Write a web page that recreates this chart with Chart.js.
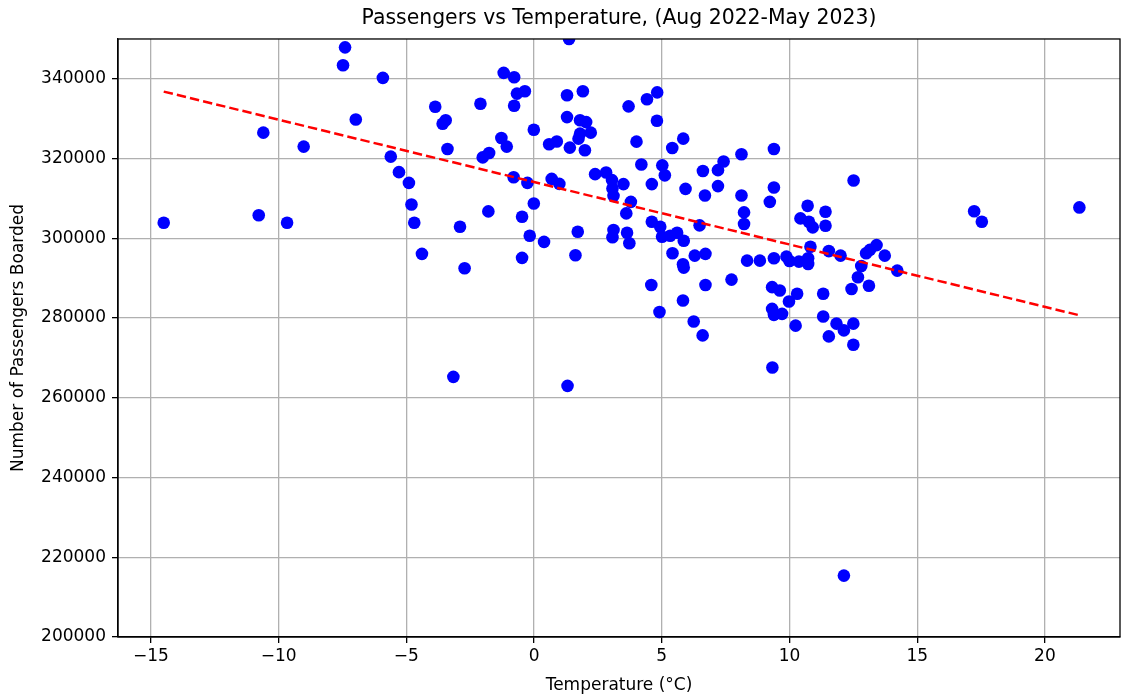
<!DOCTYPE html>
<html>
<head>
<meta charset="utf-8">
<script src="https://cdn.jsdelivr.net/npm/chart.js@4.4.0/dist/chart.umd.min.js"></script>
<style>
  html, body { margin: 0; padding: 0; background: #fff; }
  #wrap { width: 1122px; height: 698px; }
</style>
</head>
<body>
<div id="wrap"><canvas id="chart" width="1122" height="698"></canvas></div>
<script>
// values
var temps = [
  -7.40, -7.48, -6.98, -10.6, -9.02, -14.5, -10.78, -9.67,
  1.37, -5.92, -1.19, -0.78, -0.67, -0.36, -0.78, -2.1, -3.87, -3.46, -3.58, -3.39,
  -0.01, -1.28, -1.07, -2.01, -1.76, -5.61, -5.29, -4.9, -4.8, -4.69,
  -2.9, -1.79, -0.8, -0.26, -0.01, -0.47, -0.17, 0.39, 0.69, 0.99,
  1.29, 1.91, 1.29, 1.8, 2.04, 1.8, 2.22, 1.74, 1.4, 1.99,
  0.59, 0.89, 2.39, 1.71,
  -4.39, -2.72, -0.47, 1.62, -3.16, 1.31,
  3.7, 4.42, 4.82, 4.81, 4.01, 5.41, 5.84, 2.82, 3.05, 3.07,
  3.11, 3.5, 4.2, 4.61, 5.02, 5.12, 3.79, 3.61, 3.11, 3.07,
  3.64, 3.73, 4.61, 4.94, 5.01, 5.6, 5.86, 5.33, 6.48, 5.93,
  6.61, 7.2, 7.42, 6.69, 7.2, 8.12, 8.12, 8.22, 8.22, 9.39,
  9.39, 9.23, 10.71, 10.43, 10.76, 10.91, 11.41, 11.41, 10.82,
  4.59, 4.91, 5.42, 5.83, 5.86, 6.29, 6.71, 6.71, 5.83, 6.25,
  6.6, 7.73, 8.34, 8.84, 9.39, 9.88, 10.0, 10.37, 10.73, 10.73,
  9.32, 9.62, 10.3, 9.98, 9.32, 9.39, 9.71, 10.24, 11.32, 11.32,
  11.54, 9.33,
  12.51, 17.23, 17.53, 21.35, 11.54, 12.0, 13.0, 13.15, 13.41, 13.73,
  14.22, 12.81, 12.68, 13.11, 12.43, 11.84, 12.13, 12.5, 12.5, 12.13
];
var passengers = [
  347900, 343400, 329800, 326500, 323000, 303900, 305800, 303900,
  350000, 340250, 341500, 340400, 336300, 336900, 333250, 333750, 333000, 329600, 328750, 322400,
  327250, 325150, 323000, 320300, 321400, 320500, 316600, 313900, 308500, 303900,
  302900, 306750, 315300, 313900, 308750, 305400, 300650, 299100, 314900, 313650,
  335900, 336900, 330400, 329600, 329150, 326250, 326500, 325000, 322750, 322100,
  323600, 324300, 316100, 301650,
  296100, 292500, 295100, 295750, 265250, 263000,
  333100, 334900, 336600, 329500, 324250, 322650, 325000, 316500, 314600, 312500,
  310650, 313600, 318500, 313600, 318300, 315800, 309150, 306250, 302100, 300250,
  301400, 298750, 304150, 302900, 300400, 301400, 299400, 300650, 303250, 312400,
  316900, 317100, 319250, 310750, 313100, 321100, 310750, 306500, 303600, 322400,
  312750, 309150, 308150, 305000, 304150, 302750, 306650, 303150, 297900,
  288300, 281500, 296250, 293500, 292650, 295650, 296100, 288300, 284400, 279150,
  275650, 289650, 294400, 294400, 295000, 295400, 294300, 294150, 293550, 295000,
  287750, 286900, 286100, 284150, 282300, 280800, 281050, 278100, 286100, 280400,
  275400, 267600,
  314500, 306800, 304150, 307750, 296800, 295650, 296250, 297100, 298300, 295650,
  291900, 293050, 290250, 288100, 287300, 278600, 276900, 278600, 273300, 215400
];

// fitted line ends as drawn in the picture
var trendTemps = [-14.5, 21.35];
var trendPassengers = [336800, 280700];

var xTickValues = [-15, -10, -5, 0, 5, 10, 15, 20];
var yTickValues = [200000, 220000, 240000, 260000, 280000, 300000, 320000, 340000];

var points = temps.map(function(t, i) { return {x: t, y: passengers[i]}; });
var trend = trendTemps.map(function(t, i) { return {x: t, y: trendPassengers[i]}; });

var font = 'DejaVu Sans';

var framePlugin = {
  id: 'frame',
  afterDraw: function(chart) {
    var a = chart.chartArea, ctx = chart.ctx;
    ctx.save();
    ctx.strokeStyle = '#000';
    ctx.lineWidth = 1.3;
    ctx.strokeRect(a.left, a.top, a.right - a.left, a.bottom - a.top);
    ctx.restore();
  }
};

new Chart(document.getElementById('chart'), {
  type: 'scatter',
  data: {
    datasets: [
      {
        label: 'trend',
        data: trend,
        showLine: true,
        borderColor: '#ff0000',
        borderWidth: 2.5,
        borderDash: [9.4, 4.1],
        pointRadius: 0,
        fill: false,
        order: 0
      },
      {
        label: 'data',
        data: points,
        backgroundColor: '#0000ff',
        borderWidth: 0,
        pointRadius: 6.3,
        order: 1
      }
    ]
  },
  options: {
    responsive: false,
    animation: false,
    layout: { autoPadding: false, padding: { left: 0, right: 2, top: 0, bottom: 0 } },
    plugins: {
      legend: { display: false },
      tooltip: { enabled: false },
      title: {
        display: true,
        text: 'Passengers vs Temperature, (Aug 2022-May 2023)',
        color: '#000',
        fullSize: false,
        font: { family: font, size: 20.4, weight: 'normal', lineHeight: 1.2 },
        padding: { top: 6.7, bottom: 7.8 }
      }
    },
    scales: {
      x: {
        type: 'linear',
        min: -16.29,
        max: 22.94,
        afterFit: function(s) {
          s.height = 61;
          s.paddingLeft = 0;
          s.paddingRight = 0;
        },
        afterBuildTicks: function(s) { s.ticks = xTickValues.map(function(v) { return {value: v}; }); },
        grid: { color: '#b0b0b0', lineWidth: 1.3, tickColor: '#000', tickLength: 6, tickWidth: 1.3 },
        border: { color: '#000', width: 1.3 },
        ticks: {
          color: '#000',
          padding: 3,
          font: { family: font, size: 17, lineHeight: 1.2 },
          callback: function(v) { return String(v).replace('-', '\u2212'); }
        },
        title: {
          display: true,
          text: 'Temperature (°C)',
          color: '#000',
          font: { family: font, size: 17, lineHeight: 1.2 },
          padding: { top: 0, bottom: 2 }
        }
      },
      y: {
        type: 'linear',
        min: 200000,
        max: 350000,
        afterFit: function(s) { s.width = 118; },
        afterBuildTicks: function(s) { s.ticks = yTickValues.map(function(v) { return {value: v}; }); },
        grid: { color: '#b0b0b0', lineWidth: 1.3, tickColor: '#000', tickLength: 6, tickWidth: 1.3 },
        border: { color: '#000', width: 1.3 },
        ticks: {
          color: '#000',
          padding: 6,
          font: { family: font, size: 17, lineHeight: 1.2 },
          callback: function(v) { return String(v); }
        },
        title: {
          display: true,
          text: 'Number of Passengers Boarded',
          color: '#000',
          font: { family: font, size: 17, lineHeight: 1.2 },
          padding: { top: 8, bottom: 0 }
        }
      }
    }
  },
  plugins: [framePlugin]
});
</script>
</body>
</html>
